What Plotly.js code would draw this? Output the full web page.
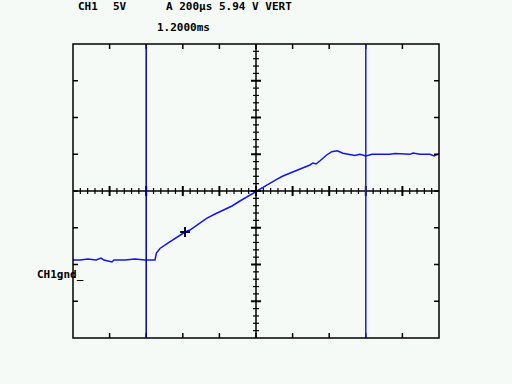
<!DOCTYPE html>
<html>
<head>
<meta charset="utf-8">
<script src="https://cdn.plot.ly/plotly-3.0.1.min.js"></script>
<style>
html,body{margin:0;padding:0;background:#f5faf6;}
#chart{width:512px;height:384px;}
</style>
</head>
<body>
<div id="chart"></div>
<script>
// Time in microseconds (200 µs/div), voltage in volts (5 V/div)
const timeUs = [-22, 38, 82, 126, 153, 169, 213, 224, 284, 339, 393, 448,
  456, 475, 512, 546, 585, 612, 639, 676, 710, 730, 776, 820, 869, 912, 967,
  1000, 1038, 1077, 1113, 1147, 1186, 1240, 1268, 1295, 1311, 1328, 1350, 1386,
  1414, 1444, 1475, 1514, 1541, 1568, 1601, 1634, 1732, 1759, 1841, 1858, 1896,
  1951, 1973, 1994, 2022];
const volts = [-9.39, -9.39, -9.25, -9.39, -9.12, -9.39, -9.66, -9.39, -9.39, -9.25, -9.39, -9.39,
  -8.44, -7.82, -7.21, -6.67, -6.12, -5.58, -5.31, -4.63, -4.08, -3.71, -3.13, -2.58, -2.04, -1.36, -0.54,
  0.0, 0.58, 1.09, 1.59, 2.04, 2.41, 2.95, 3.27, 3.54, 3.81, 3.67, 4.12, 4.90,
  5.35, 5.48, 5.13, 4.99, 4.83, 4.99, 4.76, 4.99, 4.99, 5.10, 4.99, 5.17, 4.99,
  4.99, 4.76, 4.99, 4.99];
const triggerT = [612];
const triggerV = [-5.58];
const cursorTimes = [400, 1600];
const cursorColors = ['#0000b0', '#1a1aff'];
const headerCh = 'CH1';
const headerScale = '5V';
const headerTime = 'A 200µs 5.94 V VERT';
const headerDelay = '1.2000ms';
const groundLabel = 'CH1gnd_';

const X0 = 0, X1 = 2000, Y0 = -20, Y1 = 20;
const plotW = 366, plotH = 294;
const pxX = (X1 - X0) / plotW, pxY = (Y1 - Y0) / plotH;

const shapes = [];
function seg(x0, y0, x1, y1, w, c) {
  shapes.push({type: 'line', xref: 'x', yref: 'y', x0: x0, y0: y0, x1: x1, y1: y1,
    line: {color: c || '#000', width: w || 1}, layer: 'above'});
}
// center axes
seg(X0, 0, X1, 0, 1.5);
seg(1000, Y0, 1000, Y1, 1.5);
// center minor/major ticks
for (let t = 40; t < X1; t += 40) {
  const major = (t % 200 === 0);
  const h = (major ? 5 : 3) * pxY;
  seg(t, -h, t, h, major ? 2 : 1.2);
}
for (let v = Y0 + 1; v < Y1; v += 1) {
  const major = (v % 5 === 0);
  const h = (major ? 5 : 3) * pxX;
  seg(1000 - h, v, 1000 + h, v, major ? 2 : 1.2);
}
// frame ticks
for (let t = 200; t < X1; t += 200) {
  seg(t, Y1, t, Y1 - 5 * pxY, 1.5);
  seg(t, Y0, t, Y0 + 5 * pxY, 1.5);
}
for (let v = Y0 + 5; v < Y1; v += 5) {
  seg(X0, v, X0 + 5 * pxX, v, 1.5);
  seg(X1, v, X1 - 5 * pxX, v, 1.5);
}
// cursors
cursorTimes.forEach((t, i) => seg(t, Y0, t, Y1, 1.5, cursorColors[i]));
// frame
shapes.push({type: 'rect', xref: 'paper', yref: 'paper', x0: 0, y0: 0, x1: 1, y1: 1,
  line: {color: '#000', width: 1.5}, layer: 'above'});

const fnt = {family: 'DejaVu Sans Mono', size: 11, color: '#000', weight: 'bold'};
function ann(text, px, py) {
  return {text: '<b>' + text + '</b>', xref: 'paper', yref: 'paper',
    x: (px - 73) / plotW, y: (338 - py) / plotH, xanchor: 'left', yanchor: 'middle',
    showarrow: false, font: fnt};
}

const data = [
  {x: timeUs, y: volts, mode: 'lines', type: 'scatter',
   line: {color: '#1414f0', width: 1.5}, cliponaxis: false, hoverinfo: 'skip'},
  {x: triggerT, y: triggerV, mode: 'markers', type: 'scatter',
   marker: {symbol: 'cross-thin', size: 7, line: {color: '#000050', width: 2}}, hoverinfo: 'skip'}
];

const layout = {
  width: 512, height: 384,
  margin: {l: 73, r: 73, t: 44, b: 46},
  paper_bgcolor: '#f5faf6', plot_bgcolor: '#f5faf6',
  showlegend: false,
  xaxis: {range: [X0, X1], showgrid: false, zeroline: false, showticklabels: false, ticks: '', showline: false, fixedrange: true},
  yaxis: {range: [Y0, Y1], showgrid: false, zeroline: false, showticklabels: false, ticks: '', showline: false, fixedrange: true},
  shapes: shapes,
  annotations: [
    ann(headerCh, 76, 7),
    ann(headerScale, 111, 7),
    ann(headerTime, 164, 7),
    ann(headerDelay, 155, 28),
    ann(groundLabel, 35, 274)
  ]
};

Plotly.newPlot('chart', data, layout, {displayModeBar: false, staticPlot: true});
</script>
</body>
</html>
